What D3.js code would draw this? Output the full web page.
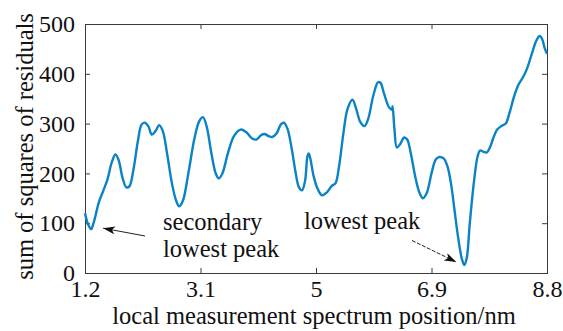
<!DOCTYPE html>
<html>
<head>
<meta charset="utf-8">
<script src="https://cdn.jsdelivr.net/npm/d3@7/dist/d3.min.js"></script>
<style>
  html, body { margin: 0; padding: 0; background: #fff; }
  svg { display: block; }
  text { font-family: "Liberation Serif", "Times New Roman", serif; fill: #111; }
</style>
</head>
<body>
<svg id="chart" width="563" height="331"></svg>
<script>
// Position along the local measurement spectrum (nm)
const positions = [
  1.20, 1.25, 1.30, 1.34, 1.43, 1.50, 1.57, 1.64, 1.70, 1.75,
  1.82, 1.88, 1.93, 2.00, 2.07, 2.13, 2.18, 2.24, 2.30, 2.36,
  2.42, 2.48, 2.55, 2.63, 2.70, 2.75, 2.81, 2.90, 3.00, 3.08,
  3.14, 3.20, 3.28, 3.35, 3.40, 3.46, 3.55, 3.65, 3.76, 3.85,
  3.95, 4.02, 4.10, 4.15, 4.22, 4.28, 4.35, 4.42, 4.47, 4.53,
  4.60, 4.66, 4.72, 4.77, 4.82, 4.86, 4.88, 4.91, 4.96, 5.03,
  5.10, 5.18, 5.26, 5.32, 5.38, 5.45, 5.52, 5.60, 5.66, 5.73,
  5.80, 5.86, 5.94, 6.02, 6.06, 6.12, 6.20, 6.25, 6.26, 6.29,
  6.33, 6.38, 6.45, 6.50, 6.56, 6.63, 6.70, 6.76, 6.82, 6.90,
  6.97, 7.03, 7.10, 7.16, 7.22, 7.28, 7.34, 7.40, 7.44, 7.48,
  7.53, 7.60, 7.66, 7.70, 7.76, 7.81, 7.86, 7.92, 7.98, 8.05,
  8.12, 8.18, 8.26, 8.33, 8.40, 8.47, 8.55, 8.63, 8.68, 8.72,
  8.76, 8.80
];

// Sum of squares of residuals at each position
const residuals = [
  120, 98, 88, 100, 143, 165, 188, 222, 238, 228,
  190, 172, 174, 210, 265, 298, 302, 295, 278, 285,
  297, 285, 240, 180, 145, 134, 145, 200, 270, 305,
  313, 295, 240, 200, 190, 200, 240, 275, 288, 283,
  270, 268, 277, 279, 275, 273, 280, 298, 302, 290,
  250, 205, 172, 166, 185, 235, 240, 228, 195, 168,
  156, 162, 175, 180, 215, 280, 330, 348, 330, 303,
  295, 310, 355, 383, 382, 360, 333, 328, 335, 290,
  252, 258, 272, 268, 240, 195, 162, 150, 160, 200,
  228, 233, 230, 215, 180, 125, 70, 28, 16, 30,
  100, 185, 235, 246, 243, 242, 252, 272, 288, 295,
  300, 320, 355, 378, 392, 410, 440, 468, 476, 470,
  452, 440
];

const xTicks = [1.2, 3.1, 5, 6.9, 8.8];
const yTicks = [0, 100, 200, 300, 400, 500];

const xLabel = "local measurement spectrum position/nm";
const yLabel = "sum of squares of residuals";

const annotations = [
  { lines: ["secondary", "lowest peak"], at: [1.30, 88] },
  { lines: ["lowest peak"], at: [7.44, 16] }
];

const W = 563, H = 331;
const m = { left: 85, right: 16, top: 24, bottom: 58 };
const svg = d3.select("#chart");

const x = d3.scaleLinear().domain([1.2, 8.8]).range([m.left, W - m.right]);
const y = d3.scaleLinear().domain([0, 500]).range([H - m.bottom, m.top]);

const axisColor = "#3a3a3a";
const tickLen = 5;
const tickFont = 24;
const titleFont = 24.5;

// Frame with inward ticks on all four sides
const xb = d3.axisBottom(x).tickValues(xTicks).tickSizeInner(-tickLen).tickSizeOuter(0)
  .tickPadding(7).tickFormat(d3.format(""));
const xt = d3.axisTop(x).tickValues(xTicks).tickSizeInner(-tickLen).tickSizeOuter(0).tickFormat("");
const yl = d3.axisLeft(y).tickValues(yTicks).tickSizeInner(-tickLen).tickSizeOuter(0)
  .tickPadding(10).tickFormat(d3.format(""));
const yr = d3.axisRight(y).tickValues(yTicks).tickSizeInner(-tickLen).tickSizeOuter(0).tickFormat("");

function styleAxis(g) {
  g.select(".domain").remove();
  g.selectAll(".tick line").attr("stroke", axisColor).attr("stroke-width", 1);
  g.selectAll(".tick text")
    .style("font-family", "'Liberation Serif', 'Times New Roman', serif")
    .style("font-size", tickFont + "px")
    .attr("fill", "#111");
}

svg.append("g").attr("transform", `translate(0,${y(0)})`).call(xb).call(styleAxis);
svg.append("g").attr("transform", `translate(0,${y(500)})`).call(xt).call(styleAxis);
svg.append("g").attr("transform", `translate(${x(1.2)},0)`).call(yl).call(styleAxis);
svg.append("g").attr("transform", `translate(${x(8.8)},0)`).call(yr).call(styleAxis);

svg.append("rect")
  .attr("x", x(1.2) + 0.5).attr("y", y(500) + 0.5)
  .attr("width", x(8.8) - x(1.2)).attr("height", y(0) - y(500))
  .attr("fill", "none").attr("stroke", axisColor).attr("stroke-width", 1);

// Residual curve
const pts = positions.map((p, i) => [p, residuals[i]]);
const line = d3.line()
  .x(d => x(d[0])).y(d => y(d[1]))
  .curve(d3.curveCatmullRom.alpha(0.5));

svg.append("path")
  .datum(pts)
  .attr("d", line)
  .attr("fill", "none")
  .attr("stroke", "#0a82c6")
  .attr("stroke-width", 2.4)
  .attr("stroke-linejoin", "round");

// Axis titles
svg.append("text")
  .attr("x", (x(1.2) + x(8.8)) / 2 - 2)
  .attr("y", 324)
  .attr("text-anchor", "middle")
  .style("font-size", titleFont + "px")
  .text(xLabel);

svg.append("text")
  .attr("transform", `translate(33,${(y(0) + y(500)) / 2 - 2}) rotate(-90)`)
  .attr("text-anchor", "middle")
  .style("font-size", titleFont + "px")
  .text(yLabel);

// Arrow heads
const defs = svg.append("defs");
defs.append("marker")
  .attr("id", "head")
  .attr("viewBox", "0 0 12 8")
  .attr("refX", 12).attr("refY", 4)
  .attr("markerWidth", 12).attr("markerHeight", 8)
  .attr("markerUnits", "userSpaceOnUse")
  .attr("orient", "auto")
  .append("path")
  .attr("d", "M0,0 L12,4 L0,8 L3,4 Z")
  .attr("fill", "#111");

// Annotation: secondary lowest peak
const a1 = annotations[0];
const t1 = svg.append("text")
  .attr("x", 163).attr("y", 230)
  .style("font-size", titleFont + "px");
a1.lines.forEach((s, i) => {
  t1.append("tspan").attr("x", 163).attr("dy", i === 0 ? 0 : 26.5).text(s);
});
svg.append("line")
  .attr("x1", 145).attr("y1", 236)
  .attr("x2", x(a1.at[0]) + 12).attr("y2", y(a1.at[1]) - 1)
  .attr("stroke", "#222").attr("stroke-width", 1)
  .attr("marker-end", "url(#head)");

// Annotation: lowest peak
const a2 = annotations[1];
svg.append("text")
  .attr("x", 304).attr("y", 229)
  .style("font-size", titleFont + "px")
  .text(a2.lines[0]);
svg.append("line")
  .attr("x1", 412).attr("y1", 240.5)
  .attr("x2", x(a2.at[0]) - 8).attr("y2", y(a2.at[1]) - 3)
  .attr("stroke", "#222").attr("stroke-width", 1)
  .attr("stroke-dasharray", "4,1.5")
  .attr("marker-end", "url(#head)");
</script>
</body>
</html>
